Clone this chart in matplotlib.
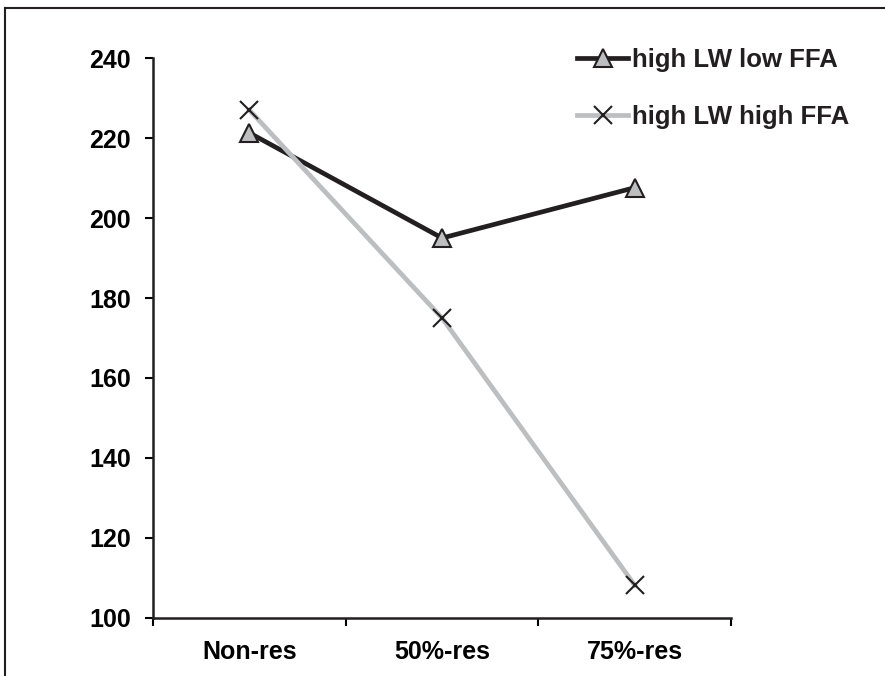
import matplotlib
matplotlib.use('Agg')
import matplotlib.pyplot as plt
from matplotlib.lines import Line2D

# data
categories = ['Non-res', '50%-res', '75%-res']
low_ffa = [221.3, 195.0, 207.6]
high_ffa = [227.0, 175.0, 108.2]
series_names = ['high LW low FFA', 'high LW high FFA']
y_ticks = [100, 120, 140, 160, 180, 200, 220, 240]

plt.rcParams['font.family'] = ['Liberation Sans', 'DejaVu Sans']
plt.rcParams['font.weight'] = 'bold'

fig = plt.figure(figsize=(8.85, 6.76), dpi=100)
ax = fig.add_axes([0.173, 0.086, 0.653, 0.828])

x = range(len(categories))
ax.plot(x, low_ffa, color='#231f20', linewidth=3.4, marker='^', markersize=12.5,
        markerfacecolor='#bcbec0', markeredgecolor='#231f20', markeredgewidth=1.5,
        label=series_names[0], zorder=3)
ax.plot(x, high_ffa, color='#bcbec0', linewidth=3.4, marker='x', markersize=13,
        markeredgecolor='#231f20', markeredgewidth=1.5,
        label=series_names[1], zorder=4)

ax.set_xlim(-0.5, len(categories) - 0.5)
ax.set_ylim(100, 240)
ax.set_yticks(y_ticks)
ax.set_xticks(list(x))
ax.set_xticklabels(categories)
ax.set_xticks([i - 0.5 for i in range(len(categories) + 1)], minor=True)

ax.tick_params(axis='x', which='major', length=0, pad=16, labelsize=18)
ax.tick_params(axis='x', which='minor', length=6, width=1.5, direction='out')
ax.tick_params(axis='y', length=6, width=1.5, direction='out', pad=10, labelsize=18)

for s in ['top', 'right']:
    ax.spines[s].set_visible(False)
for s in ['left', 'bottom']:
    ax.spines[s].set_linewidth(1.8)
    ax.spines[s].set_color('#231f20')

leg = ax.legend(loc='upper left', bbox_to_anchor=(0.652, 0.929),
                bbox_transform=fig.transFigure, frameon=False, fontsize=18.5,
                handlelength=2.0, handletextpad=0.15, labelspacing=1.3,
                borderpad=0, borderaxespad=0)
for t in leg.get_texts():
    t.set_color('#231f20')

# outer frame, only the top and left edges are visible in the reference
fig.add_artist(Line2D([5 / 885, 5 / 885], [0, 1 - 8 / 676], transform=fig.transFigure,
                      color='#231f20', linewidth=1.5))
fig.add_artist(Line2D([5 / 885, 1], [1 - 8 / 676, 1 - 8 / 676], transform=fig.transFigure,
                      color='#231f20', linewidth=1.5))

fig.savefig('out.png', dpi=100)
